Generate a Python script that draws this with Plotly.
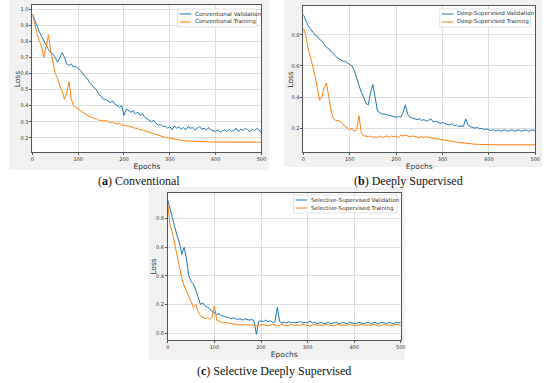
import plotly.graph_objects as go

epochs = list(range(0, 501, 5))

conv_val = [0.97, 0.93, 0.90, 0.86, 0.83, 0.80, 0.77, 0.75, 0.73, 0.72,
            0.70, 0.67, 0.70, 0.73, 0.70, 0.66, 0.65, 0.66, 0.64, 0.645,
            0.63, 0.62, 0.60, 0.58, 0.57, 0.54, 0.53, 0.51, 0.50, 0.47,
            0.46, 0.44, 0.44, 0.43, 0.42, 0.43, 0.41, 0.40, 0.39, 0.40,
            0.34, 0.38, 0.37, 0.36, 0.37, 0.35, 0.36, 0.34, 0.35, 0.33,
            0.32, 0.31, 0.30, 0.31, 0.29, 0.28, 0.285, 0.27, 0.275, 0.26,
            0.27, 0.25, 0.275, 0.26, 0.27, 0.255, 0.265, 0.25, 0.27, 0.26,
            0.265, 0.25, 0.26, 0.27, 0.255, 0.26, 0.25, 0.265, 0.25, 0.245,
            0.24, 0.25, 0.235, 0.245, 0.25, 0.24, 0.255, 0.24, 0.25, 0.26,
            0.24, 0.255, 0.245, 0.26, 0.25, 0.24, 0.255, 0.245, 0.26, 0.25,
            0.23]
conv_train = [0.97, 0.90, 0.85, 0.80, 0.77, 0.70, 0.76, 0.84, 0.74, 0.68,
              0.60, 0.57, 0.52, 0.49, 0.44, 0.48, 0.55, 0.44, 0.40, 0.39,
              0.38, 0.37, 0.355, 0.35, 0.34, 0.33, 0.33, 0.32, 0.32, 0.31,
              0.31, 0.305, 0.31, 0.30, 0.295, 0.30, 0.29, 0.285, 0.29, 0.28,
              0.28, 0.275, 0.275, 0.27, 0.265, 0.26, 0.26, 0.25, 0.25, 0.245,
              0.24, 0.235, 0.23, 0.225, 0.22, 0.215, 0.21, 0.207, 0.204, 0.201,
              0.198, 0.195, 0.192, 0.19, 0.188, 0.186, 0.184, 0.182, 0.181, 0.18,
              0.179, 0.178, 0.177, 0.177, 0.176, 0.176, 0.175, 0.175, 0.175, 0.175,
              0.175, 0.175, 0.175, 0.175, 0.175, 0.175, 0.175, 0.175, 0.175, 0.175,
              0.174, 0.174, 0.174, 0.174, 0.174, 0.174, 0.174, 0.174, 0.174, 0.174,
              0.174]

deep_val = [0.93, 0.89, 0.86, 0.84, 0.82, 0.80, 0.79, 0.77, 0.76, 0.74,
            0.72, 0.71, 0.69, 0.68, 0.66, 0.65, 0.64, 0.63, 0.63, 0.62,
            0.61, 0.60, 0.57, 0.52, 0.47, 0.43, 0.40, 0.36, 0.35, 0.43,
            0.48, 0.40, 0.31, 0.30, 0.29, 0.29, 0.285, 0.28, 0.28, 0.275,
            0.27, 0.275, 0.27, 0.30, 0.35, 0.29, 0.27, 0.265, 0.26, 0.255,
            0.26, 0.25, 0.255, 0.245, 0.25, 0.26, 0.24, 0.245, 0.24, 0.23,
            0.235, 0.23, 0.225, 0.22, 0.23, 0.215, 0.22, 0.21, 0.215, 0.21,
            0.26, 0.22, 0.21, 0.205, 0.20, 0.205, 0.195, 0.20, 0.19, 0.195,
            0.19, 0.185, 0.19, 0.18, 0.19, 0.18, 0.185, 0.19, 0.18, 0.185,
            0.19, 0.18, 0.185, 0.19, 0.18, 0.185, 0.19, 0.18, 0.185, 0.19,
            0.18]
deep_train = [0.84, 0.80, 0.72, 0.66, 0.60, 0.54, 0.46, 0.38, 0.40, 0.46,
              0.49, 0.40, 0.31, 0.26, 0.25, 0.25, 0.24, 0.23, 0.21, 0.20,
              0.19, 0.20, 0.18, 0.19, 0.28, 0.17, 0.15, 0.15, 0.145, 0.15,
              0.14, 0.145, 0.14, 0.15, 0.14, 0.145, 0.15, 0.14, 0.15, 0.145,
              0.15, 0.14, 0.155, 0.15, 0.155, 0.15, 0.145, 0.15, 0.145, 0.145,
              0.14, 0.145, 0.14, 0.145, 0.14, 0.138, 0.135, 0.133, 0.13, 0.128,
              0.125, 0.122, 0.12, 0.117, 0.115, 0.112, 0.11, 0.108, 0.106, 0.104,
              0.102, 0.10, 0.099, 0.098, 0.097, 0.096, 0.096, 0.095, 0.095, 0.095,
              0.094, 0.094, 0.094, 0.094, 0.094, 0.094, 0.094, 0.094, 0.094, 0.094,
              0.093, 0.093, 0.093, 0.093, 0.093, 0.093, 0.093, 0.093, 0.093, 0.093,
              0.093]

sel_val = [0.93, 0.86, 0.80, 0.74, 0.68, 0.63, 0.55, 0.60, 0.52, 0.40,
           0.36, 0.34, 0.30, 0.24, 0.20, 0.21, 0.19, 0.18, 0.17, 0.15,
           0.14, 0.13, 0.135, 0.12, 0.12, 0.11, 0.11, 0.10, 0.105, 0.10,
           0.095, 0.10, 0.09, 0.10, 0.095, 0.09, 0.095, 0.085, -0.01, 0.08,
           0.085, 0.08, 0.09, 0.08, 0.085, 0.075, 0.08, 0.18, 0.08, 0.07,
           0.075, 0.07, 0.08, 0.07, 0.075, 0.07, 0.075, 0.08, 0.07, 0.075,
           0.07, 0.085, 0.07, 0.075, 0.065, 0.07, 0.075, 0.065, 0.07, 0.075,
           0.065, 0.07, 0.075, 0.07, 0.065, 0.075, 0.07, 0.065, 0.075, 0.07,
           0.07, 0.065, 0.075, 0.07, 0.065, 0.07, 0.075, 0.065, 0.07, 0.075,
           0.065, 0.07, 0.075, 0.07, 0.065, 0.075, 0.07, 0.065, 0.075, 0.07,
           0.075]
sel_train = [0.90, 0.75, 0.70, 0.62, 0.55, 0.46, 0.38, 0.33, 0.29, 0.25,
             0.21, 0.18, 0.20, 0.15, 0.12, 0.11, 0.10, 0.11, 0.095, 0.11,
             0.19, 0.09, 0.08, 0.075, 0.07, 0.075, 0.065, 0.07, 0.06, 0.065,
             0.055, 0.06, 0.055, 0.06, 0.055, 0.055, 0.06, 0.055, 0.05, 0.055,
             0.055, 0.06, 0.055, 0.05, 0.055, 0.06, 0.055, 0.05, 0.055, 0.06,
             0.055, 0.05, 0.055, 0.06, 0.055, 0.055, 0.05, 0.055, 0.06, 0.055,
             0.055, 0.05, 0.055, 0.06, 0.055, 0.055, 0.05, 0.055, 0.06, 0.055,
             0.055, 0.05, 0.055, 0.06, 0.055, 0.055, 0.05, 0.055, 0.06, 0.055,
             0.055, 0.05, 0.055, 0.06, 0.055, 0.055, 0.05, 0.055, 0.06, 0.055,
             0.055, 0.05, 0.055, 0.06, 0.055, 0.055, 0.05, 0.055, 0.06, 0.055,
             0.055]

legend_names = [
    ("Conventional Validation", "Conventional Training"),
    ("Deep-Supervised Validation", "Deep-Supervised Training"),
    ("Selective-Supervised Validation", "Selective-Supervised Training"),
]
captions = [("a", "Conventional"), ("b", "Deeply Supervised"), ("c", "Selective Deeply Supervised")]

BLUE = "#1f77b4"
ORANGE = "#ff7f0e"
W, H = 550, 383

def px(x):
    return x / W

def py(y):
    return 1 - y / H

# panel geometry in pixels: (left, right, top, bottom)
panels = [(24, 259, 5, 152), (302, 540, 6, 152), (163, 402, 193, 340)]
bgs = [(0, 267, 0, 170), (282, 547, 0, 167), (143, 406, 187, 360)]
yranges = [[0.113, 1.025], [0.047, 0.985], [-0.049, 0.98]]
ytickvals = [[0.2, 0.3, 0.4, 0.5, 0.6, 0.7, 0.8, 0.9, 1.0], [0.2, 0.4, 0.6, 0.8], [0.0, 0.2, 0.4, 0.6, 0.8]]
legboxes = [(173, 254, 9, 27), (442, 535, 9, 27), (292, 398, 195, 213)]
capcenters = [(133, 181), (410, 181), (272, 371)]
loss_x = [9, 288, 148]

series = [(conv_val, conv_train), (deep_val, deep_train), (sel_val, sel_train)]

fig = go.Figure()
shapes = []
annotations = []
layout = {}

for i in range(3):
    bl, br, bt, bb = bgs[i]
    shapes.append(dict(type="rect", xref="paper", yref="paper", x0=px(bl), x1=px(br), y0=py(bb), y1=py(bt),
                       fillcolor="#f1f1f1", line=dict(width=0), layer="below"))
for i in range(3):
    l, r, t, b = panels[i]
    shapes.append(dict(type="rect", xref="paper", yref="paper", x0=px(l), x1=px(r), y0=py(b), y1=py(t),
                       fillcolor="white", line=dict(width=0), layer="below"))

for i in range(3):
    sx = "" if i == 0 else str(i + 1)
    l, r, t, b = panels[i]
    val, tr = series[i]
    fig.add_trace(go.Scatter(x=epochs, y=val, mode="lines", line=dict(color=BLUE, width=1),
                             xaxis="x" + sx, yaxis="y" + sx, showlegend=False, hoverinfo="skip"))
    fig.add_trace(go.Scatter(x=epochs, y=tr, mode="lines", line=dict(color=ORANGE, width=1),
                             xaxis="x" + sx, yaxis="y" + sx, showlegend=False, hoverinfo="skip"))
    axcommon = dict(showline=True, mirror=True, linecolor="#555555", linewidth=0.8,
                    showgrid=True, gridcolor="#dddddd", gridwidth=0.8,
                    ticks="outside", ticklen=2, tickcolor="#555555",
                    tickfont=dict(size=5, color="#333333", family="DejaVu Sans"),
                    zeroline=False)
    layout["xaxis" + sx] = dict(axcommon, domain=[px(l), px(r)], anchor="y" + sx,
                                range=[0, 500], tickvals=[0, 100, 200, 300, 400, 500],
                                title=dict(text="Epochs", font=dict(size=7.5, color="#333333", family="DejaVu Sans"), standoff=2))
    layout["yaxis" + sx] = dict(axcommon, domain=[py(b), py(t)], anchor="x" + sx,
                                range=yranges[i], tickvals=ytickvals[i], tickformat=".1f",
                                title=dict(text="", font=dict(size=7.5)))
    annotations.append(dict(text="Loss", xref="paper", yref="paper", x=px(loss_x[i]), y=py((t + b) / 2),
                            textangle=-90, xanchor="center", yanchor="middle", showarrow=False,
                            font=dict(size=7.5, color="#333333", family="DejaVu Sans")))
    # legend box
    ll, lr, lt, lb = legboxes[i]
    shapes.append(dict(type="rect", xref="paper", yref="paper", x0=px(ll), x1=px(lr), y0=py(lb), y1=py(lt),
                       fillcolor="rgba(255,255,255,0.85)", line=dict(width=0.6, color="#cccccc"), layer="above"))
    for k, col in enumerate([BLUE, ORANGE]):
        yy = lt + 5 + k * 8
        shapes.append(dict(type="line", xref="paper", yref="paper", x0=px(ll + 2), x1=px(ll + 14),
                           y0=py(yy), y1=py(yy), line=dict(color=col, width=1), layer="above"))
        annotations.append(dict(text=legend_names[i][k], xref="paper", yref="paper", x=px(ll + 16), y=py(yy),
                                xanchor="left", yanchor="middle", showarrow=False,
                                font=dict(size=5.6, color="#333333", family="DejaVu Sans")))
    cx, cy = capcenters[i]
    annotations.append(dict(text="(<b>%s</b>) %s" % captions[i], xref="paper", yref="paper",
                            x=px(cx), y=py(cy), xanchor="center", yanchor="middle", showarrow=False,
                            font=dict(size=12, color="#111111", family="Liberation Serif")))

fig.update_layout(width=W, height=H, margin=dict(l=0, r=0, t=0, b=0),
                  paper_bgcolor="white", plot_bgcolor="rgba(0,0,0,0)",
                  hovermode=False,
                  shapes=shapes, annotations=annotations, **layout)
fig.write_html("out.html", config={"displayModeBar": False},
               post_script="document.body.style.margin='0';document.body.style.padding='0';")
